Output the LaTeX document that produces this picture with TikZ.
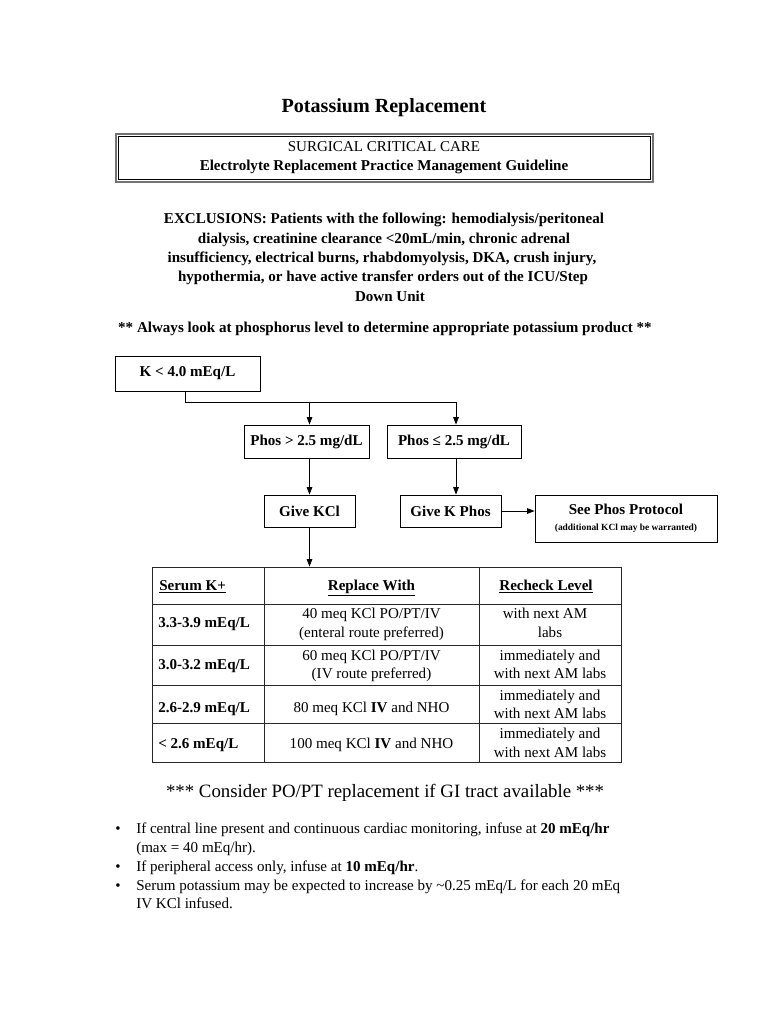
\documentclass[tikz,border=0pt]{standalone}
\usepackage{fontspec}
\setmainfont{Liberation Serif}
\usetikzlibrary{arrows.meta}
\newlength\px
\setlength\px{0.797pt}
\newcommand\normtxt{\fontsize{12}{15}\selectfont}

\tikzset{
  flowbox/.style={draw, line width=0.7pt, font=\normtxt\bfseries, inner sep=0pt},
  arr/.style={-{Triangle[length=6pt,width=4.5pt]}, line width=0.6pt},
  grid/.style={line width=0.7pt, black!85},
  txt/.style={anchor=base, inner sep=0pt, font=\normtxt},
  lefttxt/.style={anchor=base west, inner sep=0pt, font=\normtxt},
}

\begin{document}
\begin{tikzpicture}[x=\px, y=-\px]
    \useasboundingbox (0,0) rectangle (768,1024);
    \node[txt, font=\fontsize{16}{19}\selectfont\bfseries] (title) at (384,112) {Potassium Replacement};
    \node[draw=black!55, line width=2\px, minimum width=537\px, minimum height=48\px,
        align=center, font=\normtxt] (hdr) at (384,157.5)
        {SURGICAL CRITICAL CARE\\ \textbf{Electrolyte Replacement Practice Management Guideline}};
    \draw[line width=0.5pt] ([shift={(3.5,3.5)}]hdr.north west) rectangle ([shift={(-3.5,-3)}]hdr.south east);
    % exclusions
    \node[txt, font=\normtxt\bfseries] (ex1) at (384,223) {EXCLUSIONS: Patients with the following: hemodialysis/peritoneal};
    \node[txt, font=\normtxt\bfseries] (ex2) at (384,243) {dialysis, creatinine clearance <20mL/min, chronic adrenal};
    \node[txt, font=\normtxt\bfseries] (ex3) at (382,262) {insufficiency, electrical burns, rhabdomyolysis, DKA, crush injury,};
    \node[txt, font=\normtxt\bfseries] (ex4) at (383,281) {hypothermia, or have active transfer orders out of the ICU/Step};
    \node[txt, font=\normtxt\bfseries] (ex5) at (390,301) {Down Unit};
    \node[txt, font=\normtxt\bfseries] (always) at (385,332) {** Always look at phosphorus level to determine appropriate potassium product **};
    % flowchart
    \node[flowbox, minimum width=145\px, minimum height=35\px] (k) at (187.5,373.5) {K < 4.0 mEq/L};
    \node[flowbox, minimum width=125\px, minimum height=33\px] (pgt) at (306.5,441.5) {Phos > 2.5 mg/dL};
    \node[flowbox, minimum width=134\px, minimum height=33\px] (ple) at (454,441.5) {Phos ≤ 2.5 mg/dL};
    \node[flowbox, minimum width=91\px, minimum height=32\px] (kcl) at (309.5,511) {Give KCl};
    \node[flowbox, minimum width=101\px, minimum height=32\px] (kphos) at (450.5,511) {Give K Phos};
    \node[flowbox, minimum width=182\px, minimum height=47\px, align=center] (see) at (626,518.5)
        {See Phos Protocol\\[-2pt] {\fontsize{7.5}{9}\selectfont(additional KCl may be warranted)}};
    \coordinate (split) at (185,402);
    \coordinate (j1) at (309.5,402);
    \coordinate (j2) at (456,402);
    \draw[line width=0.6pt] (k.south -| split) -- (split) -- (j2);
    \draw[arr] (j1) -- (j1 |- pgt.north);
    \draw[arr] (j2) -- (j2 |- ple.north);
    \draw[arr] (pgt.south -| j1) -- (kcl.north -| j1);
    \draw[arr] (ple.south -| j2) -- (kphos.north -| j2);
    \draw[arr] (kphos.east) -- (see.west |- kphos.east);
    % table
    \node[draw, grid, minimum width=469\px, minimum height=195\px, inner sep=0pt] (tab) at (386.5,664.5) {};
    \draw[arr] (kcl.south -| j1) -- (tab.north -| j1);
    \foreach \yy in {604,645,685,723}
        \draw[grid] (152,\yy) -- (621,\yy);
    \foreach \xx in {264,479}
        \draw[grid] (\xx,567) -- (\xx,762);
    \node[lefttxt, font=\normtxt\bfseries] (h1) at (159,590) {\underline{Serum K+}};
    \node[txt, font=\normtxt\bfseries] (h2) at (371.5,590) {\underline{Replace With}};
    \node[txt, font=\normtxt\bfseries] (h3) at (546,590) {\underline{Recheck Level}};
    \node[lefttxt, font=\normtxt\bfseries] (r1a) at (158,627) {3.3-3.9 mEq/L};
    \node[txt] (r1b) at (371.5,618) {40 meq KCl PO/PT/IV};
    \node[txt] (r1c) at (371.5,637) {(enteral route preferred)};
    \node[txt] (r1d) at (545,618) {with next AM};
    \node[txt] (r1e) at (550,637) {labs};
    \node[lefttxt, font=\normtxt\bfseries] (r2a) at (158,669) {3.0-3.2 mEq/L};
    \node[txt] (r2b) at (371.5,660) {60 meq KCl PO/PT/IV};
    \node[txt] (r2c) at (371.5,678) {(IV route preferred)};
    \node[txt] (r2d) at (550,660) {immediately and};
    \node[txt] (r2e) at (550,678) {with next AM labs};
    \node[lefttxt, font=\normtxt\bfseries] (r3a) at (158,712) {2.6-2.9 mEq/L};
    \node[txt] (r3b) at (371.5,712) {80 meq KCl \textbf{IV} and NHO};
    \node[txt] (r3d) at (550,700) {immediately and};
    \node[txt] (r3e) at (550,718) {with next AM labs};
    \node[lefttxt, font=\normtxt\bfseries] (r4a) at (158,748) {< 2.6 mEq/L};
    \node[txt] (r4b) at (371.5,748) {100 meq KCl \textbf{IV} and NHO};
    \node[txt] (r4d) at (550,738) {immediately and};
    \node[txt] (r4e) at (550,757) {with next AM labs};
    % notes
    \node[txt, font=\fontsize{15}{18}\selectfont] (consider) at (385,797) {*** Consider PO/PT replacement if GI tract available ***};
    \foreach \yy in {833,871,890}
        \node[lefttxt] at (115,\yy) {\textbullet};
    \node[lefttxt] (b1) at (136,833) {If central line present and continuous cardiac monitoring, infuse at \textbf{20 mEq/hr}};
    \node[lefttxt] (b1x) at (136,852) {(max = 40 mEq/hr).};
    \node[lefttxt] (b2) at (136,871) {If peripheral access only, infuse at \textbf{10 mEq/hr}.};
    \node[lefttxt] (b3) at (136,890) {Serum potassium may be expected to increase by {\textasciitilde}0.25 mEq/L for each 20 mEq};
    \node[lefttxt] (b3x) at (136,908) {IV KCl infused.};
\end{tikzpicture}
\end{document}
